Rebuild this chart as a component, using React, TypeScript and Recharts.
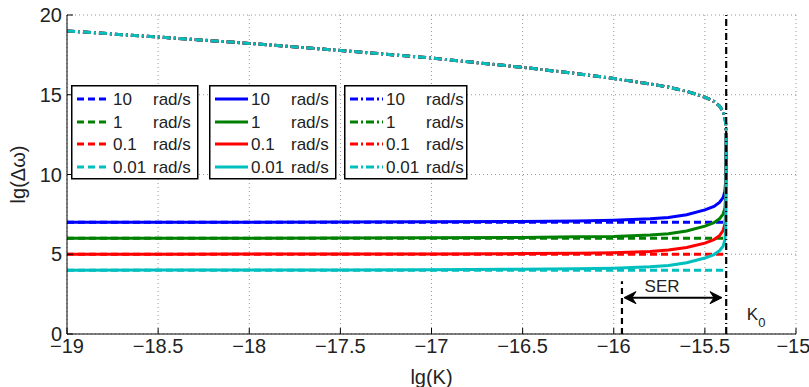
import { LineChart, Line, XAxis, YAxis, CartesianGrid, ReferenceLine, ReferenceDot, Legend } from 'recharts';

// lg(K) sample positions along the curves
const kValues = [-19, -18.5, -18, -17.5, -17, -16.5, -16.2, -16, -15.8, -15.7, -15.6, -15.5, -15.45, -15.42, -15.4, -15.39, -15.386, -15.383];

// lower branch (solid)
const solid10 = [7.0, 7.01, 7.01, 7.02, 7.03, 7.06, 7.09, 7.13, 7.22, 7.3, 7.48, 7.78, 8.0, 8.25, 8.55, 8.95, 9.6, 12.4];
const solid1 = [6.0, 6.01, 6.01, 6.02, 6.03, 6.05, 6.09, 6.12, 6.21, 6.29, 6.46, 6.76, 6.98, 7.22, 7.52, 7.9, 8.6, 12.4];
const solid01 = [5.0, 5.0, 5.01, 5.01, 5.02, 5.04, 5.07, 5.1, 5.18, 5.26, 5.42, 5.7, 5.92, 6.16, 6.48, 6.9, 7.6, 12.4];
const solid001 = [4.0, 4.01, 4.01, 4.02, 4.03, 4.06, 4.09, 4.13, 4.22, 4.3, 4.47, 4.76, 4.98, 5.22, 5.5, 5.9, 6.6, 12.4];

// upper branch (dash-dot), same for every frequency
const upperBranch = [19.0, 18.62, 18.22, 17.78, 17.3, 16.72, 16.32, 16.02, 15.68, 15.48, 15.22, 14.85, 14.58, 14.3, 13.95, 13.6, 13.2, 12.4];

// approximation (dashed)
const flatK = [-19, -15.383];
const flat10 = [7, 7];
const flat1 = [6, 6];
const flat01 = [5, 5];
const flat001 = [4, 4];

const freqLabels = ['10', '1', '0.1', '0.01'];
const xTicks = [-19, -18.5, -18, -17.5, -17, -16.5, -16, -15.5, -15];
const yTicks = [0, 5, 10, 15, 20];

const K0 = -15.383;
const serStart = -15.955;

const colors = ['#0000ff', '#008000', '#ff0000', '#00bfbf'];
const DASH = '7 4';
const DASHDOT = '8 3 2 3';
const FONT = '"Liberation Sans", Arial, Helvetica, sans-serif';

const pts = (xs: number[], ys: number[]) => xs.map((k, i) => ({ k, v: ys[i] }));

const dashedSets = [flat10, flat1, flat01, flat001].map(ys => pts(flatK, ys));
const solidSets = [solid10, solid1, solid01, solid001].map(ys => pts(kValues, ys));
const dashDotSets = [upperBranch, upperBranch, upperBranch, upperBranch].map(ys => pts(kValues, ys));

const minus = (v: number) => String(v).replace('-', '\u2212');

function LegendBoxes() {
  const boxes = [
    { x: 0, w: 126, dash: DASH },
    { x: 138, w: 126, dash: undefined },
    { x: 273, w: 122, dash: DASHDOT },
  ];
  const rows = [14, 37, 59, 82];
  return (
    <svg width={400} height={96} style={{ fontFamily: FONT, display: 'block' }}>
      {boxes.map((b, bi) => (
        <g key={bi}>
          <rect x={b.x + 0.75} y={0.75} width={b.w} height={93} fill="#fff" stroke="#000" strokeWidth={1.5} />
          {rows.map((ry, ri) => (
            <g key={ri}>
              <line x1={b.x + 6} x2={b.x + 39} y1={ry} y2={ry} stroke={colors[ri]} strokeWidth={3} strokeDasharray={b.dash} />
              <text x={b.x + 42} y={ry} dominantBaseline="central" fontSize={17} fill="#222">{freqLabels[ri]}</text>
              <text x={b.x + 82} y={ry} dominantBaseline="central" fontSize={17} fill="#222">rad/s</text>
            </g>
          ))}
        </g>
      ))}
    </svg>
  );
}

const arrowShape = (p: any) => {
  const { x1, y1, x2, y2 } = p;
  const l = Math.min(x1, x2);
  const r = Math.max(x1, x2);
  const y = (y1 + y2) / 2;
  return (
    <g>
      <line x1={l + 4} x2={r - 4} y1={y} y2={y} stroke="#000" strokeWidth={2} />
      <polygon points={`${l},${y} ${l + 12},${y - 6} ${l + 8},${y} ${l + 12},${y + 6}`} fill="#000" stroke="#000" strokeWidth={1} />
      <polygon points={`${r},${y} ${r - 12},${y - 6} ${r - 8},${y} ${r - 12},${y + 6}`} fill="#000" stroke="#000" strokeWidth={1} />
    </g>
  );
};

export default function App() {
  const tickStyle = { fill: '#222', fontSize: 20, fontFamily: FONT };
  return (
    <div style={{ position: 'absolute', left: 0, top: 0 }}>
      <LineChart width={809} height={387} margin={{ top: 15, right: 13, left: 0, bottom: 0 }} style={{ fontFamily: FONT }}>
        <CartesianGrid stroke="#999" strokeDasharray="1 3" />
        <XAxis
          dataKey="k"
          type="number"
          domain={[-19, -15]}
          ticks={xTicks}
          allowDataOverflow
          tickFormatter={minus}
          tick={tickStyle}
          height={53}
          stroke="#000"
          tickSize={-6}
          tickMargin={11}
          label={{ value: 'lg(K)', position: 'insideBottom', offset: 3, fill: '#222', fontSize: 20 }}
        />
        <XAxis xAxisId="top" orientation="top" type="number" domain={[-19, -15]} ticks={xTicks} height={0} tick={false} stroke="#000" tickSize={-6} />
        <YAxis
          type="number"
          domain={[0, 20]}
          ticks={yTicks}
          allowDataOverflow
          tick={tickStyle}
          width={67}
          stroke="#000"
          tickSize={-6}
          tickMargin={11}
          label={{ value: 'lg(\u0394\u03c9)', angle: -90, position: 'insideLeft', offset: 18, fill: '#222', fontSize: 20, style: { textAnchor: 'middle' } }}
        />
        <YAxis yAxisId="right" orientation="right" type="number" domain={[0, 20]} ticks={yTicks} width={0} tick={false} stroke="#000" tickSize={-6} />

        {dashedSets.map((d, i) => (
          <Line key={`d${i}`} data={d} dataKey="v" type="linear" dot={false} stroke={colors[i]} strokeWidth={3} strokeDasharray={DASH} isAnimationActive={false} />
        ))}
        {solidSets.map((d, i) => (
          <Line key={`s${i}`} data={d} dataKey="v" type="linear" dot={false} stroke={colors[i]} strokeWidth={3} isAnimationActive={false} />
        ))}
        {dashDotSets.map((d, i) => (
          <Line key={`dd${i}`} data={d} dataKey="v" type="linear" dot={false} stroke={colors[i]} strokeWidth={3} strokeDasharray={DASHDOT} isAnimationActive={false} />
        ))}

        <ReferenceLine x={K0} stroke="#000" strokeWidth={2.2} strokeDasharray="7 3 1 3" />
        <ReferenceLine segment={[{ x: serStart, y: 0 }, { x: serStart, y: 3.3 }]} stroke="#000" strokeWidth={2.2} strokeDasharray="6 4" />
        <ReferenceLine segment={[{ x: -15.944, y: 2.28 }, { x: -15.406, y: 2.28 }]} shape={arrowShape} />
        <ReferenceDot
          x={-15.735}
          y={2.95}
          r={0}
          shape={(p: any) => (
            <text x={p.cx} y={p.cy} textAnchor="middle" dominantBaseline="central" fontSize={17} fill="#222" fontFamily={FONT}>SER</text>
          )}
        />
        <ReferenceDot
          x={-15.27}
          y={1.2}
          r={0}
          shape={(p: any) => (
            <text x={p.cx} y={p.cy} dominantBaseline="central" fontSize={17} fill="#222" fontFamily={FONT}>
              K<tspan fontSize={13} dy={7}>0</tspan>
            </text>
          )}
        />
        <Legend
          layout="vertical"
          align="center"
          verticalAlign="middle"
          wrapperStyle={{ left: 71, top: 85, width: 400, height: 96 }}
          content={() => <LegendBoxes />}
        />
      </LineChart>
    </div>
  );
}
